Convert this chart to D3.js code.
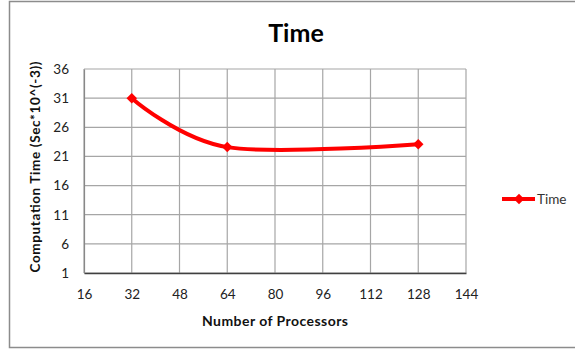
<!DOCTYPE html>
<html>
<head>
<meta charset="utf-8">
<script src="https://cdn.jsdelivr.net/npm/d3@7"></script>
<style>
  html, body { margin: 0; padding: 0; background: #fff; }
  svg { display: block; }
  text { font-family: Lato, "Open Sans", "Liberation Sans", sans-serif; }
</style>
</head>
<body>
<svg id="chart" width="575" height="349"></svg>
<script>
// Computation time measured against processor count
const processors = [32, 64, 128];
const timeValues = [31, 22.6, 23.1];
const xTicks = [16, 32, 48, 64, 80, 96, 112, 128, 144];
const yTicks = [1, 6, 11, 16, 21, 26, 31, 36];
const seriesName = "Time";

const svg = d3.select("#chart");
const W = 575, H = 349;
const plot = { left: 84, top: 69, right: 466, bottom: 273 };

// outer frame
svg.append("rect")
  .attr("x", 9.5).attr("y", 1.5)
  .attr("width", W).attr("height", 346)
  .attr("fill", "#fff").attr("stroke", "#8c8c8c").attr("stroke-width", 1.5);

const x = d3.scaleLinear().domain([16, 144]).range([plot.left, plot.right]);
const y = d3.scaleLinear().domain([1, 36]).range([plot.bottom, plot.top]);

// gridlines
const grid = svg.append("g");
grid.selectAll("line.v").data(xTicks).join("line")
  .attr("x1", d => x(d)).attr("x2", d => x(d))
  .attr("y1", plot.top).attr("y2", plot.bottom)
  .attr("stroke", "#a6a6a6").attr("stroke-width", 1.2);
grid.selectAll("line.h").data(yTicks).join("line")
  .attr("x1", plot.left).attr("x2", plot.right)
  .attr("y1", d => y(d)).attr("y2", d => y(d))
  .attr("stroke", "#a6a6a6").attr("stroke-width", 1.2);

// axes
const xAxis = d3.axisBottom(x).tickValues(xTicks).tickSize(0).tickPadding(16);
const gx = svg.append("g").attr("transform", `translate(0,${plot.bottom})`).call(xAxis);
gx.select(".domain").attr("stroke", "#404040").attr("stroke-width", 1.4);
gx.selectAll("text").attr("font-size", 13.5).attr("fill", "#222");

const yAxis = d3.axisLeft(y).tickValues(yTicks).tickSize(0).tickPadding(15);
const gy = svg.append("g").attr("transform", `translate(${plot.left},0)`).call(yAxis);
gy.select(".domain").attr("stroke", "#888").attr("stroke-width", 1.2);
gy.selectAll("text").attr("font-size", 13.5).attr("fill", "#222");

// series line (smoothed)
const pts = processors.map((p, i) => [p, timeValues[i]]);
const line = d3.line().x(d => x(d[0])).y(d => y(d[1])).curve(d3.curveCardinal.tension(0));
svg.append("path").datum(pts)
  .attr("d", line)
  .attr("fill", "none").attr("stroke", "#ff0000").attr("stroke-width", 4)
  .attr("stroke-linejoin", "round").attr("stroke-linecap", "round");

const diamond = d3.symbol().type(d3.symbolDiamond2).size(70);
svg.selectAll("path.marker").data(pts).join("path")
  .attr("class", "marker")
  .attr("transform", d => `translate(${x(d[0])},${y(d[1])})`)
  .attr("d", diamond)
  .attr("fill", "#ff0000");

// title
svg.append("text")
  .attr("x", 296).attr("y", 42)
  .attr("text-anchor", "middle")
  .attr("font-size", 25).attr("font-weight", "bold").attr("fill", "#000")
  .text("Time");

// axis titles
svg.append("text")
  .attr("x", 275).attr("y", 326)
  .attr("text-anchor", "middle")
  .attr("font-size", 14).attr("font-weight", "bold").attr("fill", "#111")
  .attr("textLength", 146).attr("lengthAdjust", "spacing")
  .text("Number of Processors");

svg.append("text")
  .attr("transform", "translate(40,167) rotate(-90)")
  .attr("text-anchor", "middle")
  .attr("font-size", 13.5).attr("font-weight", "bold").attr("fill", "#111")
  .attr("textLength", 211).attr("lengthAdjust", "spacing")
  .text("Computation Time  (Sec*10^(-3))");

// legend
const lg = svg.append("g").attr("transform", "translate(502,199)");
lg.append("line").attr("x1", 0).attr("x2", 33).attr("y1", 0).attr("y2", 0)
  .attr("stroke", "#ff0000").attr("stroke-width", 4);
lg.append("path").attr("transform", "translate(17,0)").attr("d", diamond).attr("fill", "#ff0000");
lg.append("text").attr("x", 35).attr("y", 5)
  .attr("font-size", 13.5).attr("fill", "#333").text(seriesName);
</script>
</body>
</html>
